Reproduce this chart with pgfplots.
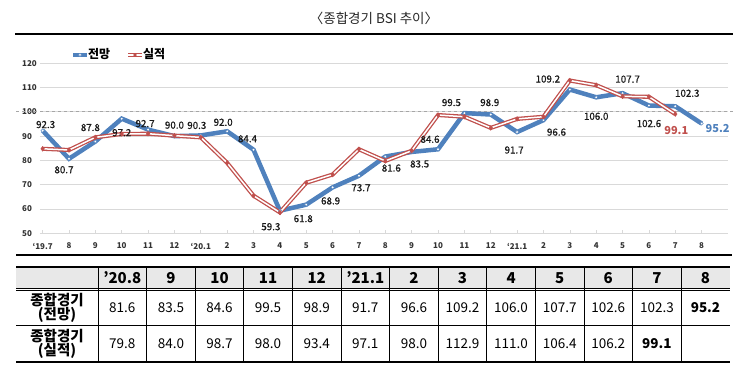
\documentclass[border=0pt]{standalone}
\usepackage{fontspec}
\setmainfont{Noto Sans CJK KR}
\newfontfamily\lblfont[FakeBold=0.6]{Noto Sans CJK KR}
\usepackage{pgfplots}
\pgfplotsset{compat=1.18}
\definecolor{bblue}{HTML}{4F81BD}
\definecolor{rred}{HTML}{C0504D}
\definecolor{gridg}{HTML}{D9D9D9}
\definecolor{hdr}{HTML}{E8E8E8}
\begin{document}
\begin{tikzpicture}[x=1pt,y=1pt]
\useasboundingbox (0,0) rectangle (750,382);
% title
\node[font=\fontsize{13.5}{14}\selectfont, text=black!85] at (374,363.5) {〈종합경기 BSI 추이〉};
\draw[line width=2pt] (15,348) -- (733,348);
% legend
\draw[bblue, line width=4pt] (73,327) -- (87,327);
\draw[bblue, fill=white, line width=0.5pt] (80,327) circle (1.6);
\node[anchor=west, inner sep=0, font=\fontsize{12}{13}\selectfont\bfseries] at (88,327.5) {전망};
\draw[rred, line width=1.2pt, double=white, double distance=1.4pt] (128,327) -- (142,327);
\fill[rred] (135,327) circle (1.8);
\node[anchor=west, inner sep=0, font=\fontsize{12}{13}\selectfont\bfseries] at (143,327.5) {실적};

\begin{axis}[
  at={(40pt,148.7pt)}, anchor=south west,
  scale only axis, width=688pt, height=170pt,
  xmin=-0.1, xmax=26, ymin=50, ymax=120,
  axis line style={draw=none},
  ytick={50,60,...,120},
  xtick={0,...,25},
  xticklabels={`19.7,8,9,10,11,12,`20.1,2,3,4,5,6,7,8,9,10,11,12,`21.1,2,3,4,5,6,7,8},
  ymajorgrids, grid style={gridg, line width=0.9pt},
  ytick style={draw=none},
  xtick style={draw=gridg, line width=0.6pt},
  tick align=inside, major tick length=3pt, tick pos=left,
  /pgf/number format/assume math mode=true,
  xticklabel style={font=\fontsize{8}{9}\selectfont\bfseries, text=black!80, yshift=-6pt},
  yticklabel style={font=\fontsize{8}{9}\selectfont\bfseries, text=black!80, anchor=west, inner sep=0pt, xshift=-18pt},
  clip=false,
]
\draw[gray!70, dashed, line width=1.2pt] (axis cs:-1.0,100) -- (axis cs:26.2,100);
% 전망
\addplot[bblue, line width=4.5pt, mark=*, mark size=1.7pt, mark options={fill=white, draw=bblue, line width=0.5pt}] coordinates {
(0,92.3) (1,80.7) (2,87.8) (3,97.2) (4,92.7) (5,90.0) (6,90.3) (7,92.0) (8,84.4) (9,59.3)
(10,61.8) (11,68.9) (12,73.7) (13,81.6) (14,83.5) (15,84.6) (16,99.5) (17,98.9) (18,91.7) (19,96.6)
(20,109.2) (21,106.0) (22,107.7) (23,102.6) (24,102.3) (25,95.2)};
% 실적
\addplot[rred, line width=1.3pt, double=white, double distance=1.5pt] coordinates {
(0,84.8) (1,84.3) (2,89.5) (3,90.9) (4,91.0) (5,90.2) (6,89.5) (7,79.0) (8,65.5) (9,58.6)
(10,70.8) (11,74.2) (12,84.6) (13,79.8) (14,84.0) (15,98.7) (16,98.0) (17,93.4) (18,97.1) (19,98.0)
(20,112.9) (21,111.0) (22,106.4) (23,106.2) (24,99.1)};
\addplot[only marks, mark=diamond*, mark size=2.4pt, mark options={fill=rred, draw=rred}] coordinates {
(0,84.8) (1,84.3) (2,89.5) (3,90.9) (4,91.0) (5,90.2) (6,89.5) (7,79.0) (8,65.5) (9,58.6)
(10,70.8) (11,74.2) (12,84.6) (13,79.8) (14,84.0) (15,98.7) (16,98.0) (17,93.4) (18,97.1) (19,98.0)
(20,112.9) (21,111.0) (22,106.4) (23,106.2) (24,99.1)};
% labels
\tikzset{lb/.style={font=\lblfont\fontsize{9.8}{10}\selectfont, text=black!90, inner sep=0pt}}
\node[lb, xshift=3pt, yshift=6pt] at (axis cs:0,92.3) {92.3};
\node[lb, xshift=-5pt, yshift=-11pt] at (axis cs:1,80.7) {80.7};
\node[lb, xshift=-5pt, yshift=14pt] at (axis cs:2,87.8) {87.8};
\node[lb, xshift=0pt, yshift=-14pt] at (axis cs:3,97.2) {97.2};
\node[lb, xshift=-3pt, yshift=6pt] at (axis cs:4,92.7) {92.7};
\node[lb, xshift=0pt, yshift=11pt] at (axis cs:5,90.0) {90.0};
\node[lb, xshift=-4pt, yshift=10pt] at (axis cs:6,90.3) {90.3};
\node[lb, xshift=-4pt, yshift=9pt] at (axis cs:7,92.0) {92.0};
\node[lb, xshift=-6pt, yshift=11pt] at (axis cs:8,84.4) {84.4};
\node[lb, xshift=-9pt, yshift=-16pt] at (axis cs:9,59.3) {59.3};
\node[lb, xshift=-3pt, yshift=-14pt] at (axis cs:10,61.8) {61.8};
\node[lb, xshift=-2pt, yshift=-13.5pt] at (axis cs:11,68.9) {68.9};
\node[lb, xshift=2pt, yshift=-12pt] at (axis cs:12,73.7) {73.7};
\node[lb, xshift=6pt, yshift=-11.5pt] at (axis cs:13,81.6) {81.6};
\node[lb, xshift=8pt, yshift=-12pt] at (axis cs:14,83.5) {83.5};
\node[lb, xshift=-8pt, yshift=10pt] at (axis cs:15,84.6) {84.6};
\node[lb, xshift=-13pt, yshift=10.5pt] at (axis cs:16,99.5) {99.5};
\node[lb, xshift=-1pt, yshift=12pt] at (axis cs:17,98.9) {98.9};
\node[lb, xshift=-3pt, yshift=-18pt] at (axis cs:18,91.7) {91.7};
\node[lb, xshift=13pt, yshift=-12pt] at (axis cs:19,96.6) {96.6};
\node[lb, xshift=-22pt, yshift=10.5pt] at (axis cs:20,109.2) {109.2};
\node[lb, xshift=0pt, yshift=-19pt] at (axis cs:21,106.0) {106.0};
\node[lb, xshift=5pt, yshift=14pt] at (axis cs:22,107.7) {107.7};
\node[lb, xshift=0pt, yshift=-18pt] at (axis cs:23,102.6) {102.6};
\node[lb, xshift=12pt, yshift=13pt] at (axis cs:24,102.3) {102.3};
\node[lb, font=\fontsize{11}{12}\selectfont\bfseries, text=bblue, xshift=16pt, yshift=-5pt] at (axis cs:25,95.2) {95.2};
\node[lb, font=\fontsize{11}{12}\selectfont\bfseries, text=rred, xshift=1pt, yshift=-16pt] at (axis cs:24,99.1) {99.1};
\end{axis}
\draw[line width=1.3pt] (16,127) -- (732,127);
% table
\fill[hdr] (16,114.5) rectangle (730,93);
\draw[line width=2pt] (16,114.5) -- (730,114.5);
\draw[line width=0.6pt] (16,94) -- (730,94);
\draw[line width=0.6pt] (16,91.5) -- (730,91.5);
\draw[line width=0.8pt] (16,57) -- (730,57);
\draw[line width=2pt] (16,19.5) -- (730,19.5);
\foreach \k in {0,...,12} {
  \draw[line width=0.8pt] ({98+48.6*\k},114.5) -- ({98+48.6*\k},19.5);
}
\foreach \v [count=\i from 0] in {’20.8,9,10,11,12,’21.1,2,3,4,5,6,7,8} {
  \node[font=\fontsize{15}{16}\selectfont\bfseries] at ({98+48.6*(\i+0.5)},104) {\v};
}
\foreach \v [count=\i from 0] in {81.6,83.5,84.6,99.5,98.9,91.7,96.6,109.2,106.0,107.7,102.6,102.3,\textbf{95.2}} {
  \node[font=\fontsize{13.5}{14}\selectfont] at ({98+48.6*(\i+0.5)},74.5) {\v};
}
\foreach \v [count=\i from 0] in {79.8,84.0,98.7,98.0,93.4,97.1,98.0,112.9,111.0,106.4,106.2,\textbf{99.1}} {
  \node[font=\fontsize{13.5}{14}\selectfont] at ({98+48.6*(\i+0.5)},38) {\v};
}
\node[font=\fontsize{14.5}{14}\selectfont\bfseries, align=center] at (57,74.5) {종합경기\\(전망)};
\node[font=\fontsize{14.5}{14}\selectfont\bfseries, align=center] at (57,38) {종합경기\\(실적)};
\end{tikzpicture}
\end{document}
